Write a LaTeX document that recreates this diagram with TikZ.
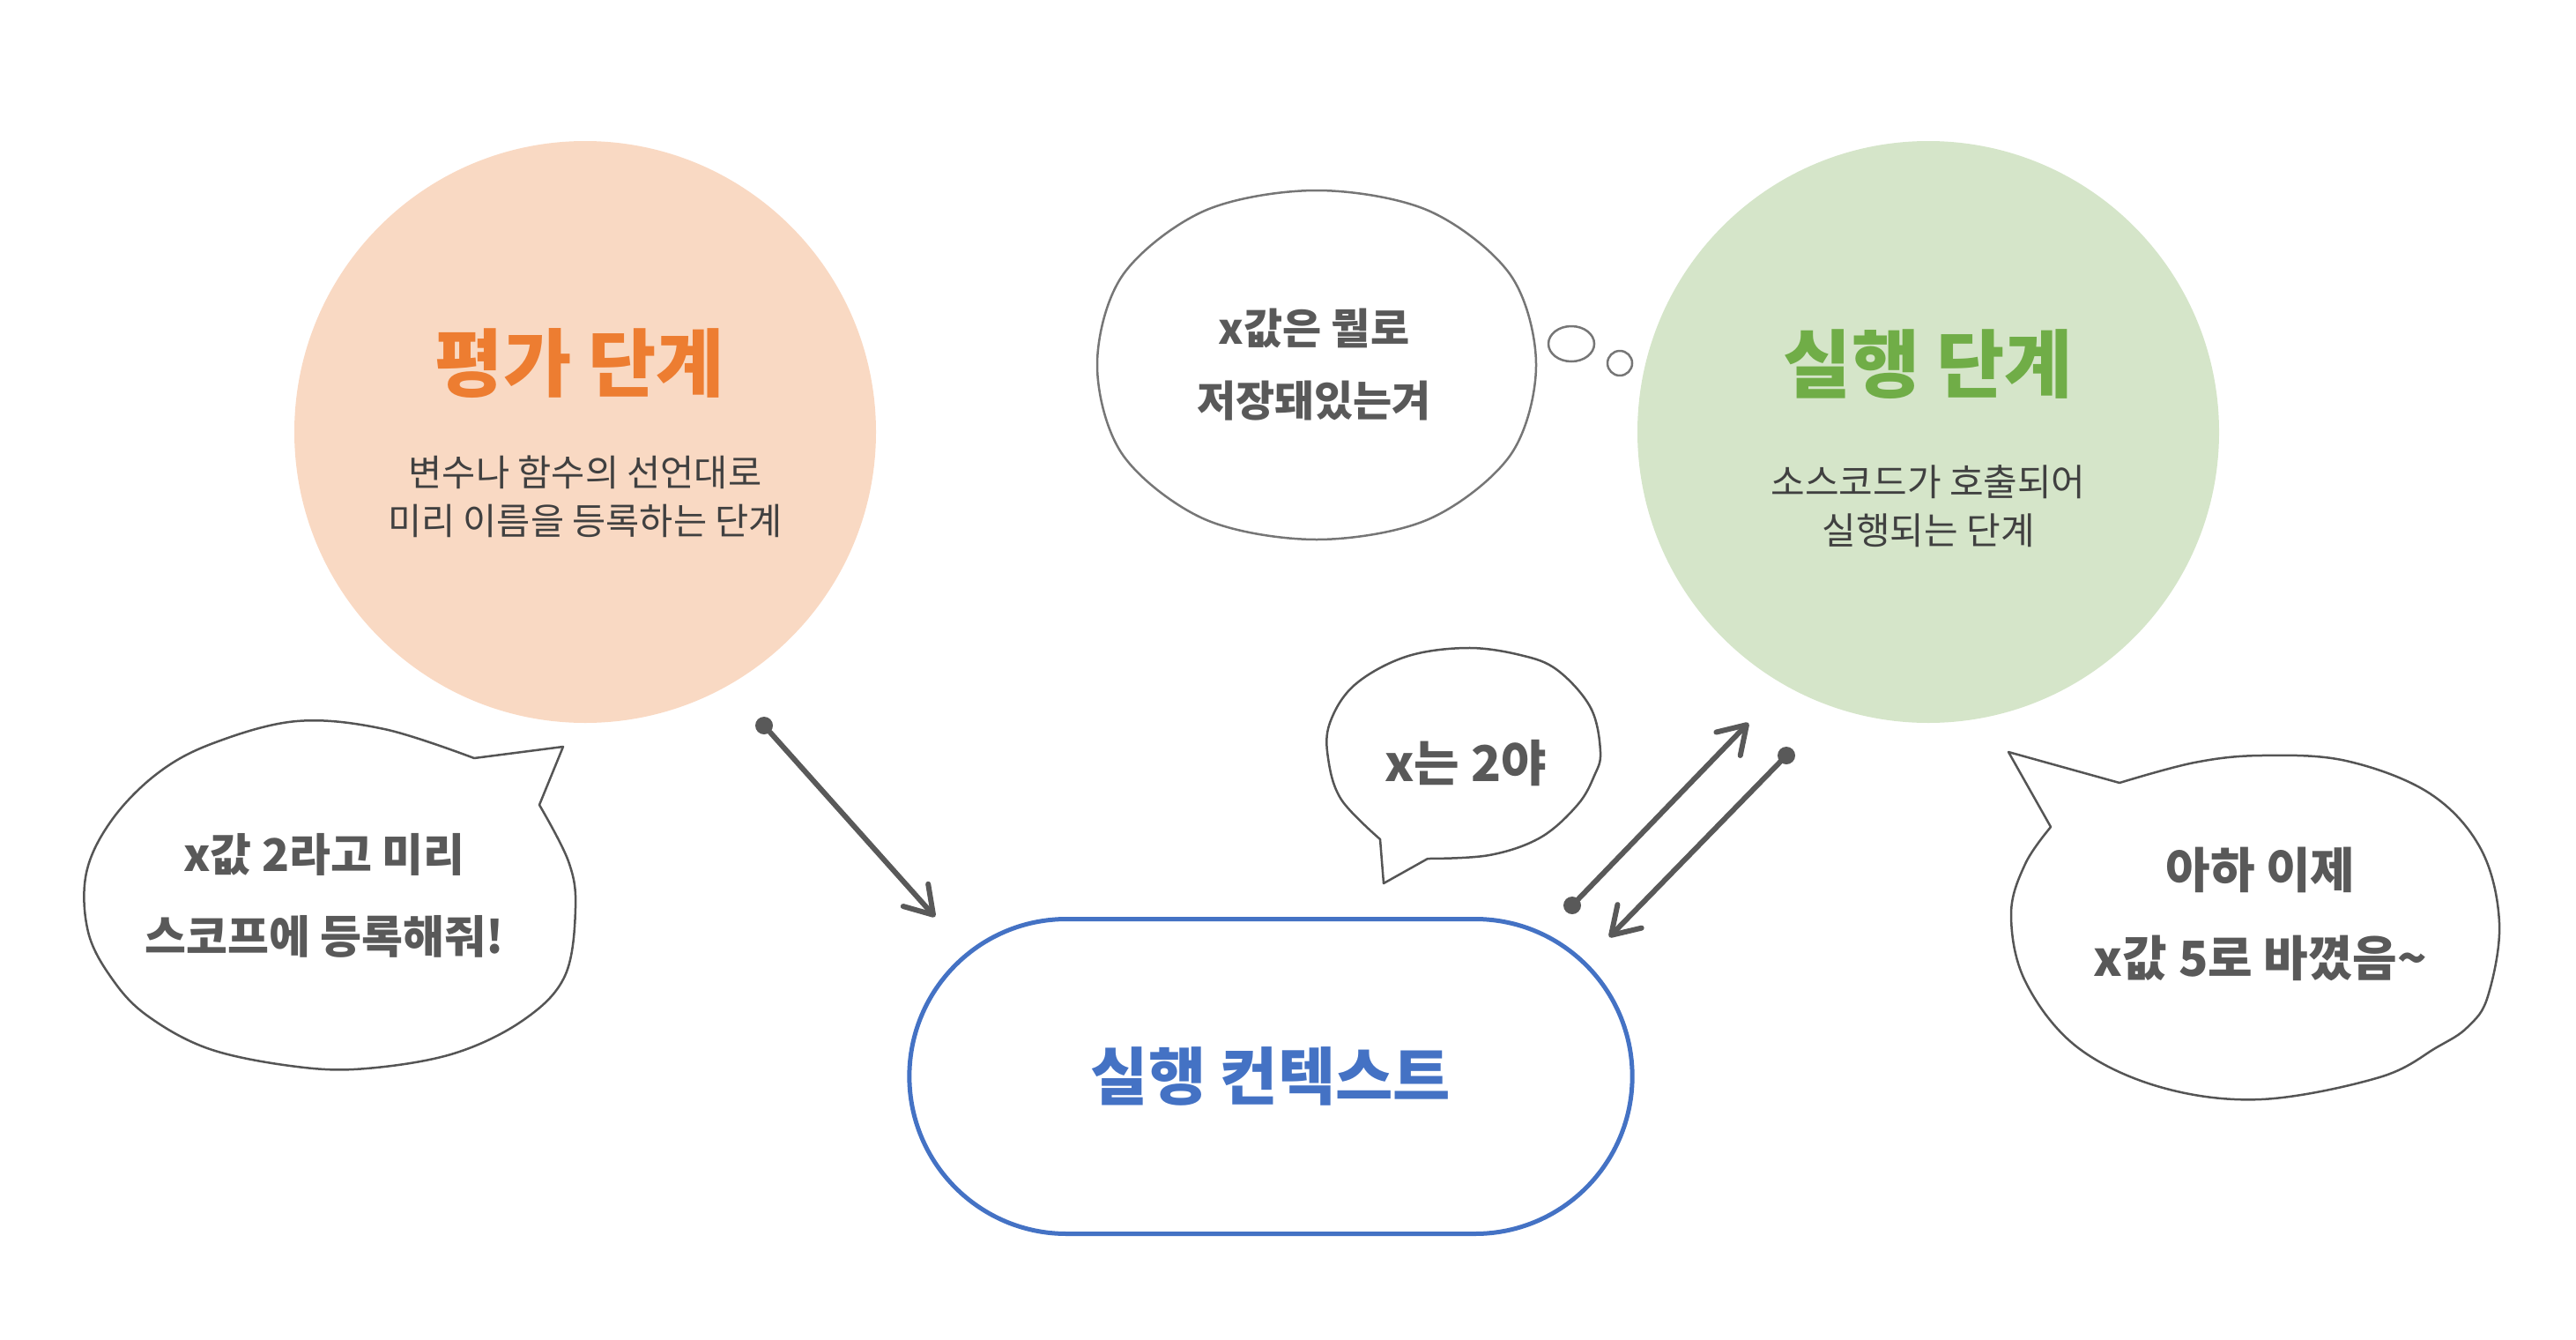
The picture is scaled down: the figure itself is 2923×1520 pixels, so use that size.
\documentclass[tikz,border=0pt]{standalone}
\usepackage{fontspec}
\setmainfont{Noto Sans CJK KR}
\newfontfamily\hand{Noto Sans CJK KR}
\usepackage{tikz}
\usetikzlibrary{
  arrows.meta,%
  % rounded rectangle for the context box
  shapes.misc,%
  positioning
}
\definecolor{evalfill}{HTML}{F9D9C3}
\definecolor{evalorange}{HTML}{ED7D31}
\definecolor{execfill}{HTML}{D5E5C9}
\definecolor{execgreen}{HTML}{70AD47}
\definecolor{ctxblue}{HTML}{4472C4}
\definecolor{textgray}{HTML}{404040}
\definecolor{handgray}{HTML}{595959}
\definecolor{linegray}{HTML}{555555}
\definecolor{thinkgray}{HTML}{767676}
\tikzset{>={Straight Barb[length=30pt,width=38pt,round]}}
\tikzset{phase/.style={circle, inner sep=0pt, minimum size=660pt}}
\tikzset{phasetitle/.style={font=\fontsize{84}{84}\selectfont\bfseries}}
\tikzset{phasetext/.style={align=center, text=textgray,
    font=\fontsize{#1}{55}\selectfont}}
\tikzset{bubble/.style={draw=linegray, line width=2.5pt, fill=white,
    line join=round}}
\tikzset{handtext/.style 2 args={align=center, text=handgray,
    font=\hand\bfseries\fontsize{#1}{#2}\selectfont}}
\tikzset{dot/.style={circle, fill=handgray, inner sep=0pt, minimum size=20pt}}
\tikzset{flow/.style={draw=handgray, line width=6pt, line cap=round, ->}}

\begin{document}
\begin{tikzpicture}[x=1pt, y=-1pt]
  \useasboundingbox (0,0) rectangle (2923,1520); %
  % the two phases
  \node[phase, fill=evalfill] (evalPhase) at (664,490) {}; %
  \node[phase, fill=execfill] (execPhase) at (2188,490) {}; %
  \node[phasetitle, text=evalorange] (evalTitle) at (658,412) {평가 단계}; %
  \node[phasetext=41.5] (evalText) at (664,563) {변수나 함수의 선언대로\\미리 이름을 등록하는 단계}; %
  \node[phasetitle, text=execgreen] (execTitle) at (2188,413) {실행 단계}; %
  \node[phasetext=42] (execText) at (2188,574) {소스코드가 호출되어\\실행되는 단계}; %
  % the context
  \node[rounded rectangle, draw=ctxblue, line width=5pt, minimum width=827pt,
    minimum height=357pt, text=ctxblue,
    font=\fontsize{71}{71}\selectfont\bfseries] (ctx) at (1442,1221) {실행 컨텍스트}; %
  % speech bubbles
  \draw[bubble] plot[smooth, tension=0.6] coordinates {(538,860) (436,827)
    (337,818) (242,843) (179,877) (127,930) (98,990) (100,1057) (127,1110)
    (167,1152) (238,1190) (337,1210) (416,1212) (515,1195) (594,1157)
    (641,1107) (653,1030) (645,977) (612,913)} -- (639,847) -- cycle; %
  \node[handtext={51}{93}] (evalSay) at (368,1016) {x값 2라고 미리\\스코프에 등록해줘!}; %
  \draw[bubble] plot[smooth, tension=0.6] coordinates {(2405,888) (2490,865)
    (2566,857) (2662,863) (2757,900) (2815,963) (2836,1047) (2823,1130)
    (2800,1165) (2765,1188) (2700,1222) (2566,1247) (2451,1233) (2356,1187)
    (2298,1113) (2282,1037) (2298,980) (2327,938)} -- (2279,853) -- cycle; %
  \node[handtext={55}{100}] (execSay) at (2565,1037) {아하 이제\\x값 5로 바꼈음\textasciitilde}; %
  \draw[bubble] plot[smooth, tension=0.6] coordinates {(1620,974) (1690,970)
    (1748,950) (1790,913) (1809,880) (1816,853) (1805,803) (1767,760)
    (1725,743) (1664,735) (1595,745) (1537,777) (1509,820) (1507,860)
    (1522,907) (1566,952)} -- (1570,1002) -- cycle; %
  \node[handtext={56}{56}] (ctxSay) at (1663,866) {x는 2야}; %
  % thought bubble
  \begin{scope}[bubble, draw=thinkgray]
    \draw plot[smooth cycle, tension=0.55] coordinates {(1743,414) (1714,516)
      (1621,589) (1494,612) (1367,589) (1274,516) (1245,414) (1274,312)
      (1367,239) (1494,216) (1621,239) (1714,312)}; %
    \draw (1783,390) ellipse [x radius=26, y radius=20]; %
    \draw (1838,412) circle [radius=14]; %
  \end{scope}
  \node[handtext={48}{82}] (ctxThink) at (1491,414) {x값은 뭘로\\저장돼있는겨}; %
  % arrows
  \node[dot] (evalDot) at (867,823) {}; %
  \node[dot] (ctxDot) at (1784,1027) {}; %
  \node[dot] (execDot) at (2027,857) {}; %
  \coordinate (ctxIn) at (1061,1040); %
  \coordinate (execIn) at (1984,820); %
  \coordinate (ctxBack) at (1826,1063); %
  \draw[flow] (evalDot) -- (ctxIn); %
  \draw[flow] (ctxDot) -- (execIn); %
  \draw[flow] (execDot) -- (ctxBack); %
\end{tikzpicture}
\end{document}
